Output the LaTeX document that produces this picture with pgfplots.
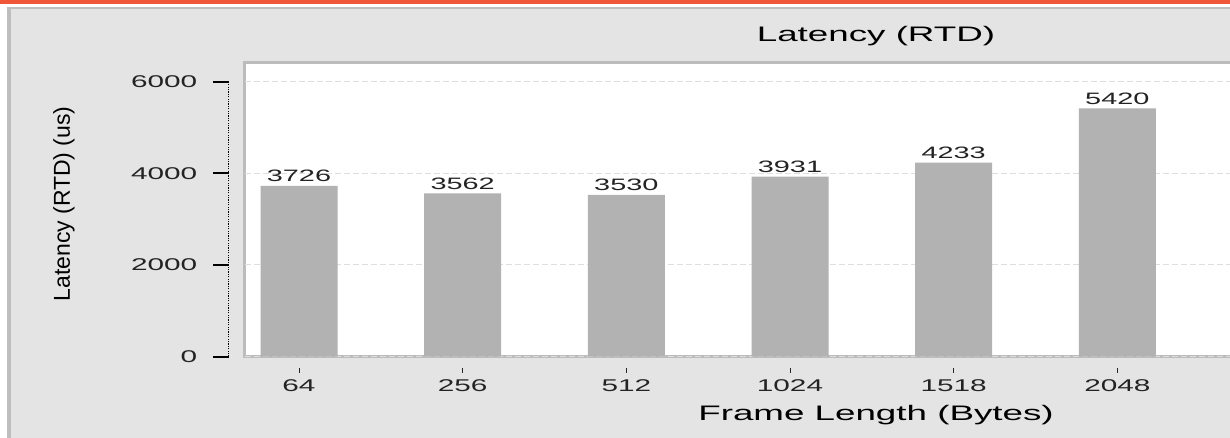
\documentclass[border=0pt]{standalone}
\usepackage{pgfplots}
\pgfplotsset{compat=1.18}
\usepackage{fontspec}
\setmainfont{Liberation Sans}
\newfontfamily\widefont[FakeStretch=1.75]{Liberation Sans}
\definecolor{topbar}{RGB}{242,86,56}
\definecolor{panel}{RGB}{228,228,228}
\definecolor{panelborder}{RGB}{190,190,190}
\definecolor{boxborder}{RGB}{188,188,188}
\definecolor{barcol}{RGB}{178,178,178}
\definecolor{gridcol}{RGB}{222,222,222}
\definecolor{ticktext}{RGB}{35,35,35}
\begin{document}
\begin{tikzpicture}
\fill[white] (0pt,0pt) rectangle (1230pt,438pt);
\fill[topbar] (0pt,434pt) rectangle (1230pt,438pt);
\fill[panelborder] (7pt,0pt) rectangle (1240pt,431pt);
\fill[panel] (11pt,0pt) rectangle (1240pt,428.5pt);
\begin{axis}[
  at={(299pt,81.4pt)}, anchor=origin,
  scale only axis, width=1263pt, height=294.1pt,
  xmin=-0.333, xmax=7.384,
  ymin=0, ymax=6420,
  axis background/.style={fill=white, draw=boxborder, line width=3pt},
  axis x line=bottom, axis y line=left,
  axis x line shift=11.4pt, axis y line shift=15.5pt,
  axis line style={draw=none},
  tick align=outside,
  xtick=data,
  xticklabels={64,256,512,1024,1518,2048},
  ytick={0,2000,4000,6000},
  every tick/.style={black, line width=2pt},
  every x tick/.style={black!85, line width=1pt, /pgfplots/major tick length=5pt},
  every y tick/.style={black, line width=2pt, /pgfplots/major tick length=16pt},
  ymajorgrids,
  major grid style={gridcol, line width=1pt, dash pattern=on 6pt off 3pt},
  /pgf/number format/assume math mode=true,
  /pgf/number format/1000 sep={},
  scaled y ticks=false,
  ticklabel style={font=\widefont\fontsize{17}{18}\selectfont, text=ticktext},
  yticklabel style={xshift=-24pt},
  xticklabel style={yshift=-4pt},
  nodes near coords,
  every node near coord/.append style={font=\widefont\fontsize{16.5}{18}\selectfont, text=ticktext, anchor=base, yshift=4pt, inner sep=0pt},
  clip=false,
]
\addplot[ybar, bar width=77pt, fill=barcol, draw=none] coordinates {
  (0,3726) (1,3562) (2,3530) (3,3931) (4,4233) (5,5420)
};
\draw[dash pattern=on 1.2pt off 1.2pt, line width=1.5pt, black] ([xshift=-16pt]axis cs:-0.333,0) -- ([xshift=-16pt]axis cs:-0.333,6000);
\node[anchor=base, font=\widefont\fontsize{21}{24}\selectfont] at ([yshift=20.5pt]axis description cs:0.5,1) {Latency (RTD)};
\node[anchor=base, font=\widefont\fontsize{21}{24}\selectfont] at ([yshift=-63.5pt]axis description cs:0.5,0) {Frame Length (Bytes)};
\node[rotate=90, anchor=center, font=\fontsize{23}{24}\selectfont] at (axis description cs:-0.1429,0.519) {Latency (RTD) (us)};
\end{axis}
\pgfresetboundingbox
\useasboundingbox (0pt,0pt) rectangle (1230pt,438pt);
\end{tikzpicture}
\end{document}
